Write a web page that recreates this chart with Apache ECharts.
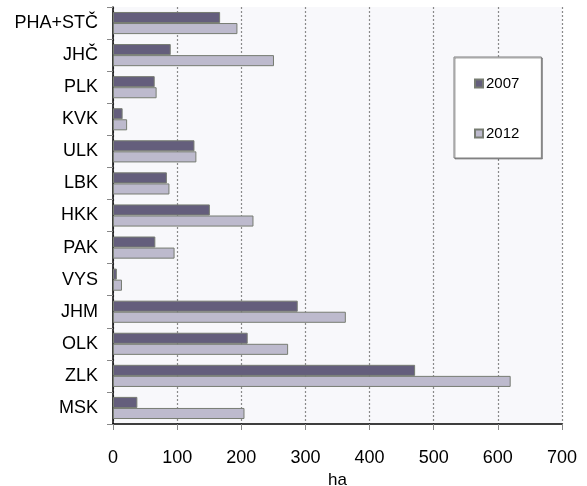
<!DOCTYPE html>
<html><head><meta charset="utf-8">
<script src="https://cdn.jsdelivr.net/npm/echarts@6/dist/echarts.min.js"></script>
<style>html,body{margin:0;padding:0;background:#fff}#c{width:587px;height:486px}</style>
</head><body><div id="c"></div>
<script>
const categories = ['PHA+STČ','JHČ','PLK','KVK','ULK','LBK','HKK','PAK','VYS','JHM','OLK','ZLK','MSK'];
const values2007 = [167, 90, 65, 15, 127, 84, 151, 66, 6, 288, 210, 471, 38];
const values2012 = [194, 251, 68, 22, 130, 88, 219, 96, 14, 363, 273, 620, 205];
const xTicks = [0, 700, 100];
const seriesNames = ['2007', '2012'];

const chart = echarts.init(document.getElementById('c'), null, {renderer: 'canvas'});
const font = '"Liberation Sans", Arial, sans-serif';
chart.setOption({
  animation: false,
  backgroundColor: '#ffffff',
  grid: {left: 113, right: 25, top: 7, bottom: 62, show: true, backgroundColor: '#f8f8fb', borderWidth: 0,
         containLabel: false, outerBoundsMode: 'none'},
  legend: {
    orient: 'vertical', left: 454, top: 57,
    backgroundColor: '#ffffff', borderColor: '#7f7f7f', borderWidth: 1,
    padding: [18, 22, 16, 20], itemGap: 33,
    itemWidth: 8, itemHeight: 8, icon: 'rect',
    textStyle: {fontFamily: font, fontSize: 15, color: '#000', lineHeight: 17, padding: [0, 0, 0, -2]},
    shadowColor: 'rgba(0,0,0,0.35)', shadowOffsetX: 1, shadowOffsetY: 1, shadowBlur: 0,
    data: seriesNames
  },
  xAxis: {
    type: 'value', min: xTicks[0], max: xTicks[1], interval: xTicks[2],
    name: 'ha', nameLocation: 'middle', nameGap: 42,
    nameTextStyle: {fontFamily: font, fontSize: 17, color: '#000'},
    axisLine: {show: true, lineStyle: {color: '#000', width: 1.5}},
    axisTick: {show: true, length: 6, lineStyle: {color: '#888'}},
    axisLabel: {fontFamily: font, fontSize: 18, color: '#000', margin: 25},
    splitLine: {show: true, lineStyle: {color: '#8a8a8a', type: [2, 2], width: 1.2}}
  },
  yAxis: {
    type: 'category', data: categories, inverse: true,
    axisLine: {show: true, lineStyle: {color: '#000', width: 1.5}},
    axisTick: {show: true, length: 6, lineStyle: {color: '#888'}},
    axisLabel: {fontFamily: font, fontSize: 18, color: '#000', margin: 15}
  },
  series: [
    {name: seriesNames[0], type: 'bar', data: values2007, barGap: '0%', barCategoryGap: '31%',
     itemStyle: {color: '#645e7c', borderColor: '#777c72', borderWidth: 1}},
    {name: seriesNames[1], type: 'bar', data: values2012, barGap: '0%', barCategoryGap: '31%',
     itemStyle: {color: '#bdbacd', borderColor: '#777c72', borderWidth: 1}}
  ]
});
</script></body></html>
